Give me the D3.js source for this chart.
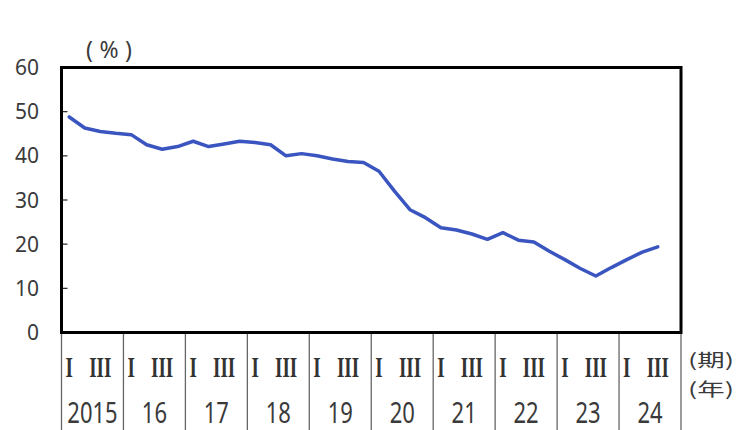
<!DOCTYPE html>
<html><head><meta charset="utf-8">
<script src="https://cdn.jsdelivr.net/npm/d3@7"></script>
<style>body{margin:0;background:#fff}svg{display:block}</style>
</head><body><svg id="c" width="737" height="430"></svg>
<script>
const years = ["2015","16","17","18","19","20","21","22","23","24"];
const quarterLabels = ["I","","III",""];
const yTicks = [0,10,20,30,40,50,60];
const values = [48.8,46.3,45.5,45.1,44.8,42.5,41.5,42.1,43.3,42.1,42.7,43.3,43.0,42.5,40.0,40.5,40.0,39.3,38.7,38.5,36.5,32.0,27.8,26.0,23.7,23.2,22.3,21.1,22.6,20.9,20.5,18.4,16.5,14.5,12.8,14.7,16.5,18.2,19.4];

const svg = d3.select("#c");
const L=61.5, R=681, T=67.5, B=332.5;
const qKeys = [];
years.forEach((y,yi)=>{ for(let q=0;q<4;q++) qKeys.push(yi+"-"+q); });
const x = d3.scaleBand().domain(qKeys).range([L,R]).padding(0);
const xYear = d3.scaleBand().domain(years).range([L,R]).padding(0);
const y = d3.scaleLinear().domain([0,60]).range([B,T]);

// y tick labels
svg.append("g").selectAll("text").data(yTicks).join("text")
  .attr("x",39).attr("y",d=>y(d)).attr("dy","0.36em")
  .attr("text-anchor","end").attr("font-family","Noto Sans, sans-serif")
  .attr("font-size",21).attr("fill","#3a3a3a").text(d=>d);

// inner ticks
svg.append("g").selectAll("line").data(yTicks.slice(1,-1)).join("line")
  .attr("x1",L).attr("x2",L+6).attr("y1",d=>y(d)).attr("y2",d=>y(d))
  .attr("stroke","#222").attr("stroke-width",1.2);

// unit
svg.append("text").attr("x",109).attr("y",58).attr("text-anchor","middle")
  .attr("font-family","Noto Sans, sans-serif").attr("font-size",23).attr("fill","#3a3a3a")
  .attr("textLength",46).attr("lengthAdjust","spacing").text("(%)");

// year separators
const seps = years.map(d=>xYear(d)).concat([R]);
svg.append("g").selectAll("line").data(seps).join("line")
  .attr("x1",d=>d).attr("x2",d=>d).attr("y1",B).attr("y2",430)
  .attr("stroke","#666").attr("stroke-width",1.3);

// quarter labels
const qData = qKeys.map((k,i)=>({k, t: quarterLabels[i%4]})).filter(d=>d.t);
svg.append("g").selectAll("text").data(qData).join("text")
  .attr("transform",d=>`translate(${x(d.k)+x.bandwidth()/2},377) scale(1,1.6)`)
  .attr("text-anchor","middle").attr("font-family","Liberation Serif, serif")
  .attr("font-weight","bold")
  .attr("font-size",19).attr("fill","#333").text(d=>d.t);

// year labels
svg.append("g").selectAll("text").data(years).join("text")
  .attr("transform",d=>`translate(${xYear(d)+xYear.bandwidth()/2},423) scale(1,1.3)`)
  .attr("text-anchor","middle").attr("font-family","Noto Sans, sans-serif")
  .attr("font-size",22).attr("fill","#3a3a3a").text(d=>d);

// right labels
svg.append("text").attr("x",711).attr("y",367).attr("text-anchor","middle")
  .attr("font-family","Noto Sans CJK JP, sans-serif").attr("font-size",18).attr("fill","#3a3a3a")
  .attr("textLength",46).attr("lengthAdjust","spacingAndGlyphs").text("(期)");
svg.append("text").attr("x",711).attr("y",396).attr("text-anchor","middle")
  .attr("font-family","Noto Sans CJK JP, sans-serif").attr("font-size",18).attr("fill","#3a3a3a")
  .attr("textLength",46).attr("lengthAdjust","spacingAndGlyphs").text("(年)");

// line
const line = d3.line().x((d,i)=>x(qKeys[i])+x.bandwidth()/2).y(d=>y(d));
svg.append("path").datum(values).attr("d",line).attr("fill","none")
  .attr("stroke","#3b55c0").attr("stroke-width",3.5).attr("stroke-linejoin","round").attr("stroke-linecap","round");

// frame
svg.append("rect").attr("x",L).attr("y",T).attr("width",R-L).attr("height",B-T)
  .attr("fill","none").attr("stroke","#000").attr("stroke-width",3);
</script></body></html>
